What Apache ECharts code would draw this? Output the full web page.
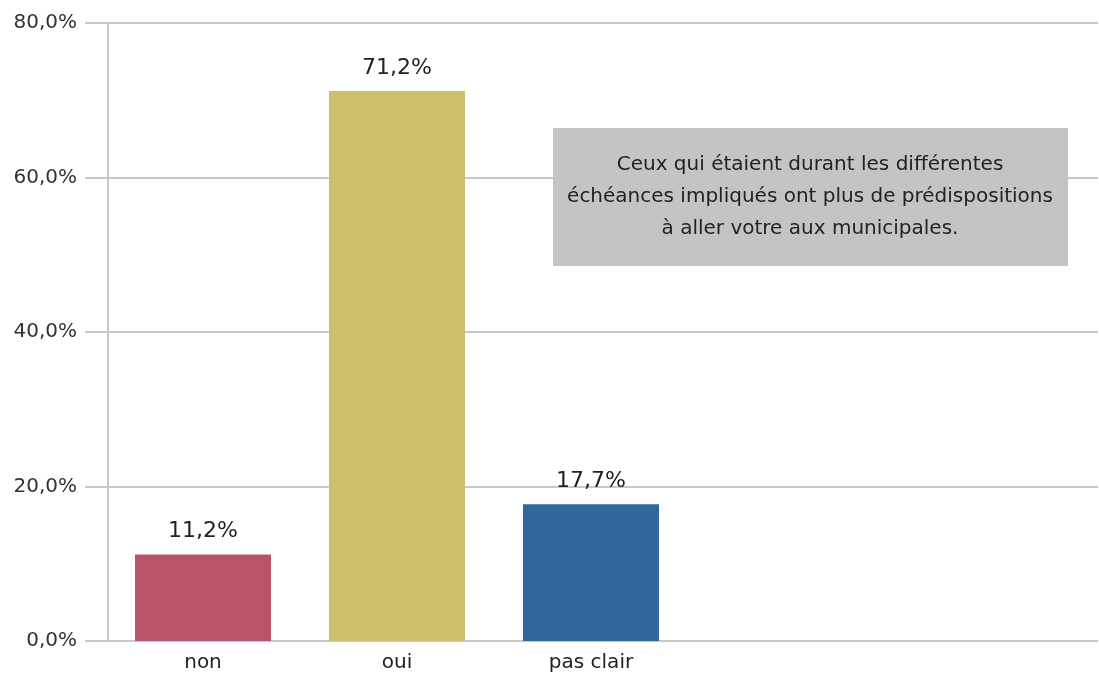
<!DOCTYPE html>
<html lang="fr">
<head>
    <meta charset="utf-8" />
    <title>Implication</title>
    <script src="https://cdn.jsdelivr.net/npm/echarts@6/dist/echarts.min.js"></script>
    <style>
        html, body { margin: 0; padding: 0; background: #fff; }
        #main { width: 1099px; height: 675px; }
    </style>
</head>
<body>
    <div id="main"></div>
    <script type="text/javascript">
        // données
        var categories = ['non', 'oui', 'pas clair', '', ''];
        var valeurs = [11.2, 71.2, 17.7];
        var yMin = 0, yMax = 80, yPas = 20;
        var note = ['Ceux qui étaient durant les différentes',
                    'échéances impliqués ont plus de prédispositions',
                    'à aller votre aux municipales.'];

        var couleurs = ['#b95468', '#cdbf6b', '#31679c'];
        var police = 'DejaVu Sans';

        function pct(v) {
            return v.toFixed(1).replace('.', ',') + '%';
        }

        var myChart = echarts.init(document.getElementById('main'));
        var option = {
            animation: false,
            textStyle: { fontFamily: police },
            grid: [
                { left: 108, right: 1, top: 23, bottom: 34 },
                { left: 106, width: 970, top: 23, bottom: 34 }
            ],
            xAxis: [
                { gridIndex: 0, type: 'category', data: categories, show: false },
                {
                    gridIndex: 1,
                    type: 'category',
                    data: categories,
                    axisLine: { show: false },
                    axisTick: { show: false },
                    axisLabel: { color: '#222', fontSize: 20, margin: 12, fontFamily: police }
                }
            ],
            yAxis: [
                {
                    gridIndex: 0,
                    type: 'value',
                    min: yMin, max: yMax, interval: yPas,
                    axisLine: { show: true, lineStyle: { color: '#c8c8c8', width: 2 } },
                    axisTick: { show: true, length: 23, lineStyle: { color: '#c8c8c8', width: 2 } },
                    splitLine: { show: true, lineStyle: { color: '#c8c8c8', width: 2 } },
                    axisLabel: { formatter: pct, color: '#333', fontSize: 20, margin: 31, fontFamily: police }
                },
                {
                    gridIndex: 1,
                    type: 'value',
                    min: yMin, max: yMax, interval: yPas,
                    show: false
                }
            ],
            series: [
                {
                    type: 'bar',
                    xAxisIndex: 1,
                    yAxisIndex: 1,
                    barWidth: 136,
                    data: valeurs.map(function (v, i) {
                        return { value: v, itemStyle: { color: couleurs[i] } };
                    }),
                    label: {
                        show: true,
                        position: 'top',
                        distance: 12,
                        color: '#222',
                        fontSize: 22,
                        fontFamily: police,
                        formatter: function (p) { return pct(p.value); }
                    }
                }
            ],
            graphic: [
                {
                    type: 'rect',
                    shape: { x: 553, y: 128, width: 515, height: 138 },
                    style: { fill: '#c3c4c3' },
                    z: 100
                },
                {
                    type: 'text',
                    x: 810, y: 197,
                    style: {
                        text: note.join('\n'),
                        align: 'center',
                        verticalAlign: 'middle',
                        fontSize: 20,
                        lineHeight: 32,
                        fontFamily: police,
                        fill: '#222'
                    },
                    z: 101
                }
            ]
        };
        myChart.setOption(option);
    </script>
</body>
</html>
